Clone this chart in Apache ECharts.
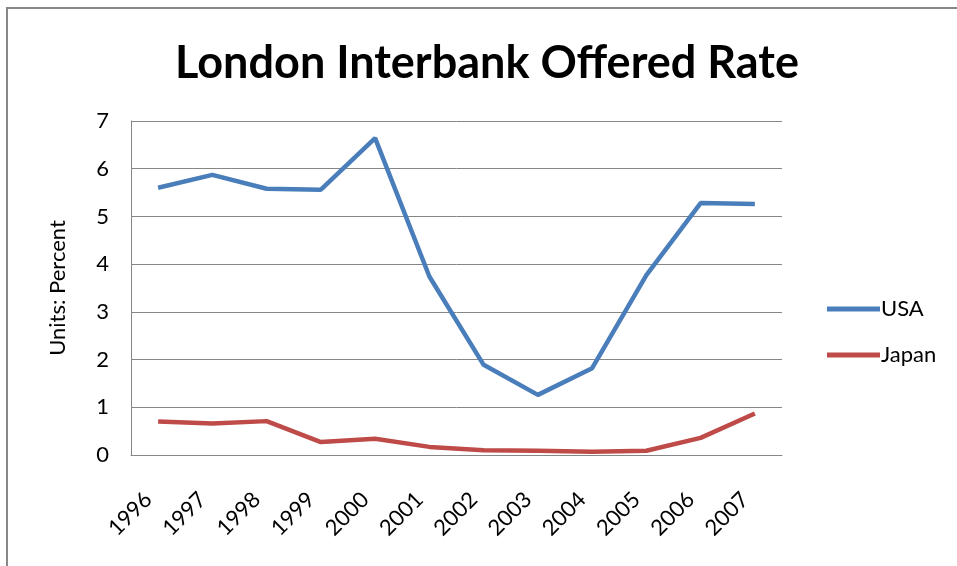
<!DOCTYPE html>
<html><head><meta charset="utf-8">
<script src="https://cdn.jsdelivr.net/npm/echarts@6/dist/echarts.min.js"></script>
<style>html,body{margin:0;padding:0;background:#fff;}#c{width:957px;height:566px;}</style>
</head><body><div id="c"></div>
<script>
const years = ['1996','1997','1998','1999','2000','2001','2002','2003','2004','2005','2006','2007'];
const usa = [5.60, 5.87, 5.58, 5.56, 6.64, 3.74, 1.89, 1.26, 1.82, 3.77, 5.28, 5.26];
const japan = [0.70, 0.66, 0.71, 0.27, 0.34, 0.17, 0.10, 0.09, 0.07, 0.09, 0.36, 0.87];
const yTicks = [0,1,2,3,4,5,6,7];

const FONT = 'Lato';
const chart = echarts.init(document.getElementById('c'), null, {renderer:'canvas'});
chart.setOption({
  animation:false,
  backgroundColor:'#fff',
  graphic:[{type:'rect', shape:{x:7,y:8,width:1000,height:620}, style:{fill:'none', stroke:'#878787', lineWidth:2}, silent:true}],
  title:{text:'London Interbank Offered Rate', left:482, top:36, textAlign:'center',
    textStyle:{fontFamily:FONT, fontWeight:'bold', fontSize:45, color:'#000'}},
  legend:{orient:'vertical', left:822, top:293, itemGap:24, itemWidth:53, itemHeight:5,
    icon:'rect',
    textStyle:{fontFamily:FONT, fontSize:22, color:'#000', padding:[0,0,0,-4]},
    data:['USA','Japan']},
  grid:{left:131, right:175, top:121, bottom:111, containLabel:false},
  xAxis:{type:'category', data:years, boundaryGap:true,
    axisLine:{lineStyle:{color:'#868686', width:1}}, axisTick:{show:false},
    axisLabel:{rotate:45, fontFamily:FONT, fontSize:22, color:'#000', margin:31, padding:[0,14,0,0], interval:0}},
  yAxis:{type:'value', min:yTicks[0], max:yTicks[yTicks.length-1], interval:1,
    name:'Units: Percent', nameLocation:'middle', nameGap:62, nameRotate:90,
    nameTextStyle:{fontFamily:FONT, fontSize:22, color:'#000'},
    axisLine:{show:true, lineStyle:{color:'#868686', width:1}}, axisTick:{show:false},
    splitLine:{lineStyle:{color:'#868686', width:1}},
    axisLabel:{fontFamily:FONT, fontSize:22, color:'#000', margin:22}},
  series:[
    {name:'USA', type:'line', data:usa, symbol:'none', lineStyle:{color:'#4A7EBB', width:4.5}, itemStyle:{color:'#4A7EBB'}},
    {name:'Japan', type:'line', data:japan, symbol:'none', lineStyle:{color:'#BE4B48', width:4.5}, itemStyle:{color:'#BE4B48'}}
  ]
});
</script></body></html>
